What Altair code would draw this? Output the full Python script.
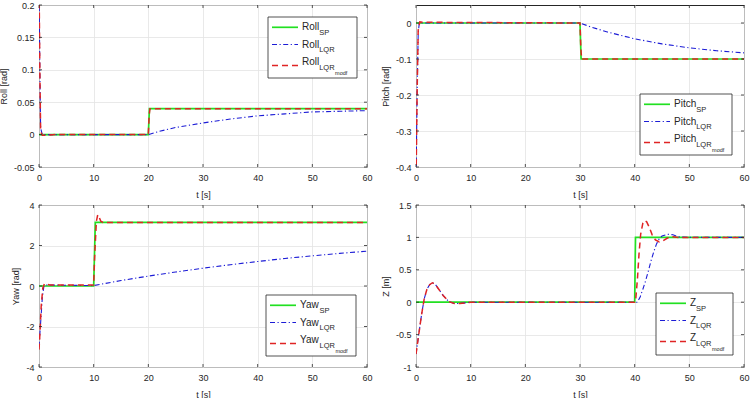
import altair as alt
import pandas as pd

# ---------------- data ----------------
T_TICKS = [0, 10, 20, 30, 40, 50, 60]

# Roll
roll_sp_t = [0, 20, 20.2, 60]
roll_sp_y = [0, 0, 0.04, 0.04]
roll_lqr_t = [0, 0.15, 0.3, 0.6, 20, 22, 25, 30, 35, 40, 45, 50, 55, 60]
roll_lqr_y = [0.25, 0.1, 0.01, 0, 0, 0.005, 0.011, 0.018, 0.024, 0.029, 0.032, 0.035, 0.036, 0.037]
roll_mod_t = [0, 0.15, 0.3, 0.6, 1.5, 3, 20, 20.15, 20.3, 20.6, 60]
roll_mod_y = [0.25, 0.1, 0.005, -0.001, -0.001, 0, 0, 0.03, 0.04, 0.04, 0.04]
roll_ticks = [-0.05, 0, 0.05, 0.1, 0.15, 0.2]

# Pitch
pitch_sp_t = [0, 30, 30.2, 60]
pitch_sp_y = [0, 0, -0.1, -0.1]
pitch_lqr_t = [0, 0.2, 0.4, 0.6, 30, 32, 35, 40, 45, 50, 55, 60]
pitch_lqr_y = [-0.45, -0.2, -0.03, 0, 0, -0.011, -0.025, -0.044, -0.058, -0.069, -0.077, -0.083]
pitch_mod_t = [0, 0.2, 0.4, 0.7, 1.5, 30, 30.15, 30.3, 30.6, 60]
pitch_mod_y = [-0.45, -0.2, -0.02, 0.003, 0.002, 0, -0.07, -0.1, -0.1, -0.1]
pitch_ticks = [-0.4, -0.3, -0.2, -0.1, 0]

# Yaw
yaw_sp_t = [0, 10, 10.3, 60]
yaw_sp_y = [0, 0, 3.14, 3.14]
yaw_lqr_t = [0, 0.3, 0.6, 0.9, 1.2, 10, 15, 20, 25, 30, 35, 40, 45, 50, 55, 60]
yaw_lqr_y = [-3.0, -1.8, -0.6, 0, 0.05, 0.02, 0.27, 0.49, 0.69, 0.88, 1.05, 1.21, 1.36, 1.49, 1.61, 1.72]
yaw_mod_t = [0, 0.2, 0.4, 0.7, 1.0, 1.4, 2.0, 10, 10.2, 10.5, 10.75, 11.0, 11.3, 11.7, 60]
yaw_mod_y = [-3.14, -2.2, -1.0, -0.1, 0.12, 0.08, 0.05, 0.05, 1.6, 3.2, 3.52, 3.4, 3.2, 3.14, 3.14]
yaw_ticks = [-4, -2, 0, 2, 4]

# Z
z_sp_t = [0, 40, 40.15, 60]
z_sp_y = [0, 0, 1, 1]
z_lqr_t = [0, 0.5, 1, 1.5, 2, 2.5, 3, 3.5, 4, 5, 6, 7, 8, 9, 10, 40, 40.5, 41, 41.5, 42,
           42.5, 43, 43.5, 44, 44.5, 45, 46, 47, 48, 50, 60]
z_lqr_y = [-0.8, -0.5, -0.2, 0.05, 0.2, 0.27, 0.3, 0.28, 0.22, 0.1, 0.01, -0.02, -0.02, -0.01, 0,
           0, 0.0, 0.08, 0.2, 0.33, 0.48, 0.64, 0.78, 0.9, 0.98, 1.02, 1.05, 1.04, 1.01, 1.0, 1.0]
z_mod_t = [0, 0.5, 1, 1.5, 2, 2.5, 3, 3.5, 4, 5, 6, 7, 8, 9, 10, 40, 40.2, 40.5, 40.8, 41.1,
           41.5, 41.8, 42.2, 42.7, 43.2, 43.8, 44.5, 45.2, 46, 47, 48, 50, 60]
z_mod_y = [-0.8, -0.5, -0.2, 0.05, 0.2, 0.27, 0.3, 0.28, 0.22, 0.1, 0.01, -0.02, -0.02, -0.01, 0,
           0, 0.05, 0.35, 0.75, 1.05, 1.22, 1.26, 1.24, 1.15, 1.04, 0.96, 0.93, 0.95, 0.99, 1.01,
           1.0, 1.0, 1.0]
z_ticks = [-1, -0.5, 0, 0.5, 1, 1.5]

# ---------------- styling ----------------
W, H = 328, 162
GREEN, BLUE, RED = "#22e022", "#1c1cd6", "#e02424"
TXT = "#262626"
FONT = "Liberation Sans"
STYLES = [(GREEN, None, 1.7), (BLUE, [5, 2.5, 1.2, 2.5], 1.1), (RED, [6, 4], 1.5)]
ONE = pd.DataFrame({"k": [0]})


def panel(series, ydom, yticks, ytitle, name, name_w, box):
    xs = alt.Scale(domain=[0, 60], nice=False, zero=False)
    ys = alt.Scale(domain=ydom, nice=False, zero=False)
    xa = alt.Axis(values=T_TICKS, title="t [s]", grid=True)
    ya = alt.Axis(values=yticks, title=ytitle, grid=True, labelExpr="datum.value + ''")
    layers = []
    for (t, y), (c, dash, w) in zip(series, STYLES):
        df = pd.DataFrame({"t": t, "y": y})
        kw = dict(color=c, strokeWidth=w, clip=True)
        if dash:
            kw["strokeDash"] = dash
        layers.append(alt.Chart(df).mark_line(**kw).encode(
            x=alt.X("t:Q", scale=xs, axis=xa),
            y=alt.Y("y:Q", scale=ys, axis=ya)))

    # inward tick marks on all four sides
    xt = pd.DataFrame({"t": T_TICKS})
    yt = pd.DataFrame({"y": yticks})
    for a, b in [(H, H - 3), (0, 3)]:
        layers.append(alt.Chart(xt).mark_rule(color=TXT, strokeWidth=0.8).encode(
            x=alt.X("t:Q", scale=xs, axis=xa), y=alt.value(a), y2=alt.value(b)))
    for a, b in [(0, 3), (W - 3, W)]:
        layers.append(alt.Chart(yt).mark_rule(color=TXT, strokeWidth=0.8).encode(
            y=alt.Y("y:Q", scale=ys, axis=ya), x=alt.value(a), x2=alt.value(b)))

    # legend box
    bx, by, bw, bh = box
    layers.append(alt.Chart(ONE).mark_rect(fill="white", stroke=TXT, strokeWidth=0.8).encode(
        x=alt.value(bx), x2=alt.value(bx + bw), y=alt.value(by), y2=alt.value(by + bh)))
    line_off = [10.3, 27.5, 48.5]
    text_off = [10.3, 27.5, 45.0]
    subs = ["SP", "LQR", "LQR"]
    sub_w = [10.0, 15.4, 15.4]
    for i, (c, dash, w) in enumerate(STYLES):
        kw = dict(color=c, strokeWidth=w)
        if dash:
            kw["strokeDash"] = dash
        layers.append(alt.Chart(ONE).mark_rule(**kw).encode(
            x=alt.value(bx + 4), x2=alt.value(bx + 30), y=alt.value(by + line_off[i])))
        tx = bx + 34
        ty = by + text_off[i]
        layers.append(alt.Chart(ONE).mark_text(
            font=FONT, fontSize=10, color=TXT, align="left", baseline="middle").encode(
            x=alt.value(tx), y=alt.value(ty), text=alt.value(name)))
        layers.append(alt.Chart(ONE).mark_text(
            font=FONT, fontSize=7.5, color=TXT, align="left", baseline="middle").encode(
            x=alt.value(tx + name_w), y=alt.value(ty + 5.5), text=alt.value(subs[i])))
        if i == 2:
            layers.append(alt.Chart(ONE).mark_text(
                font=FONT, fontSize=5.5, color=TXT, align="left", baseline="middle").encode(
                x=alt.value(tx + name_w + sub_w[i] + 0.5), y=alt.value(ty + 10.5),
                text=alt.value("modf")))
    return alt.layer(*layers).properties(width=W, height=H)


p_roll = panel([(roll_sp_t, roll_sp_y), (roll_lqr_t, roll_lqr_y), (roll_mod_t, roll_mod_y)],
               [-0.05, 0.2], roll_ticks, "Roll [rad]", "Roll", 17.2, (229, 12, 89, 61))
p_pitch = panel([(pitch_sp_t, pitch_sp_y), (pitch_lqr_t, pitch_lqr_y), (pitch_mod_t, pitch_mod_y)],
                [-0.4, 0.05], pitch_ticks, "Pitch [rad]", "Pitch", 22.2, (224, 89, 92, 61))
p_yaw = panel([(yaw_sp_t, yaw_sp_y), (yaw_lqr_t, yaw_lqr_y), (yaw_mod_t, yaw_mod_y)],
              [-4, 4], yaw_ticks, "Yaw [rad]", "Yaw", 19.5, (227, 90, 90, 61))
p_z = panel([(z_sp_t, z_sp_y), (z_lqr_t, z_lqr_y), (z_mod_t, z_mod_y)],
            [-1, 1.5], z_ticks, "Z [m]", "Z", 6.1, (240, 88, 77, 62))

chart = alt.concat(p_roll, p_pitch, p_yaw, p_z, columns=2).properties(
    spacing=alt.RowColnumber(row=38, column=49),
    bounds="flush",
    padding={"left": -2, "top": 0, "right": 1, "bottom": 0},
    background="white",
).configure_view(
    stroke=TXT, strokeWidth=1
).configure_axis(
    domain=False, ticks=False, tickSize=0,
    labelFont=FONT, labelFontSize=9, labelColor=TXT,
    titleFont=FONT, titleFontSize=9, titleFontWeight="normal", titleColor=TXT,
    gridColor="#e3e3e3", gridWidth=0.8,
    labelFlush=False, labelOverlap=False,
).configure_axisX(
    labelPadding=6.5, titlePadding=7.5
).configure_axisY(
    labelPadding=5, titlePadding=5
)

chart.save("out.html", embed_options={"renderer": "svg", "actions": False})
